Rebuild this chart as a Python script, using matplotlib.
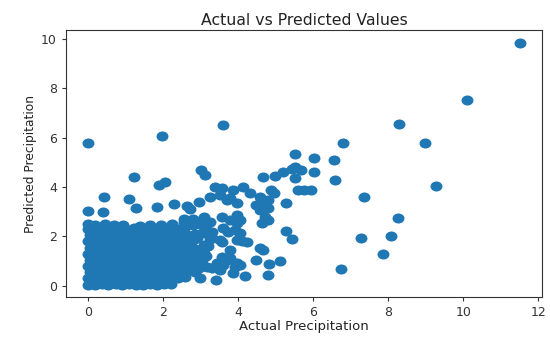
import numpy as np
import matplotlib
matplotlib.use("Agg")
import matplotlib.pyplot as plt
from matplotlib.path import Path
from matplotlib.markers import MarkerStyle
from matplotlib.transforms import Affine2D

# ---- data ----
# dense cluster near the origin (row by row)
blob_actual = [
    0.0, 0.18, 0.37, 0.55, 0.74, 0.92, 1.1, 1.29, 1.47, 1.66, 1.84, 2.03, 2.21,
    0.0, 0.2, 0.4, 0.6, 0.8, 1.0, 1.2, 1.4, 1.6, 1.8, 2.0, 2.2, 2.4, 2.6,
    0.05, 0.25, 0.45, 0.65, 0.85, 1.05, 1.25, 1.45, 1.65, 1.85, 2.05, 2.25, 2.45, 2.65, 2.85,
    0.0, 0.2, 0.4, 0.6, 0.8, 1.0, 1.2, 1.4, 1.6, 1.8, 2.0, 2.2, 2.4, 2.6, 2.8,
    0.05, 0.25, 0.45, 0.65, 0.85, 1.05, 1.25, 1.45, 1.65, 1.85, 2.05, 2.25, 2.45, 2.65, 2.85, 3.05,
    0.0, 0.2, 0.4, 0.6, 0.8, 1.0, 1.2, 1.4, 1.6, 1.8, 2.0, 2.2, 2.4, 2.6, 2.95, 3.1,
    0.05, 0.25, 0.45, 0.65, 0.85, 1.05, 1.25, 1.45, 1.65, 1.85, 2.05, 2.25, 2.45, 2.65, 2.85, 3.2,
    0.0, 0.2, 0.4, 0.6, 0.8, 1.0, 1.2, 1.4, 1.6, 1.8, 2.0, 2.2, 2.4, 2.6, 2.8, 3.25,
    0.05, 0.25, 0.45, 0.65, 0.85, 1.05, 1.25, 1.45, 1.65, 1.85, 2.05, 2.25, 2.45, 2.65, 2.85, 3.05, 3.3,
    0.0, 0.2, 0.42, 0.6, 0.8, 1.0, 1.22, 1.4, 1.6, 1.8, 2.0, 2.2, 2.4, 2.6, 2.8, 3.0, 3.25,
    0.0, 0.2, 0.45, 0.7, 0.95, 1.4, 1.65, 1.95, 2.25, 2.55, 2.8, 3.1,
    2.7, 2.95, 3.15, 2.75, 3.1, 3.3, 2.9, 3.15, 2.55, 2.75, 3.0,
]
blob_predicted = [
    0.05, 0.02, 0.08, 0.04, 0.06, 0.03, 0.07, 0.05, 0.02, 0.08, 0.04, 0.06, 0.09,
    0.31, 0.28, 0.33, 0.27, 0.3, 0.34, 0.29, 0.32, 0.28, 0.3, 0.33, 0.27, 0.31, 0.35,
    0.55, 0.58, 0.52, 0.56, 0.54, 0.59, 0.53, 0.57, 0.55, 0.52, 0.58, 0.54, 0.56, 0.6, 0.57,
    0.8, 0.83, 0.78, 0.82, 0.79, 0.84, 0.8, 0.77, 0.83, 0.81, 0.78, 0.82, 0.8, 0.84, 0.79,
    1.05, 1.07, 1.03, 1.06, 1.04, 1.08, 1.02, 1.05, 1.07, 1.03, 1.06, 1.04, 1.08, 1.05, 1.02, 1.06,
    1.3, 1.32, 1.28, 1.31, 1.33, 1.29, 1.3, 1.27, 1.32, 1.3, 1.28, 1.33, 1.31, 1.29, 1.25, 1.35,
    1.55, 1.57, 1.53, 1.56, 1.54, 1.58, 1.52, 1.55, 1.57, 1.53, 1.56, 1.54, 1.58, 1.55, 1.5, 1.6,
    1.8, 1.82, 1.78, 1.81, 1.83, 1.79, 1.8, 1.77, 1.82, 1.8, 1.78, 1.83, 1.81, 1.79, 1.84, 1.9,
    2.05, 2.07, 2.03, 2.06, 2.04, 2.08, 2.02, 2.05, 2.07, 2.03, 2.06, 2.04, 2.08, 2.05, 2.1, 2.15, 2.2,
    2.3, 2.33, 2.28, 2.32, 2.31, 2.29, 2.33, 2.3, 2.28, 2.32, 2.3, 2.31, 2.29, 2.4, 2.45, 2.5, 2.6,
    2.5, 2.48, 2.52, 2.45, 2.47, 2.44, 2.46, 2.45, 2.5, 2.6, 2.7, 2.8,
    0.95, 0.72, 1.2, 1.45, 1.65, 1.95, 1.95, 2.45, 2.7, 2.62, 2.55,
]

# scattered points of the rising band
band_actual = [
    0.0, 0.4, 0.43, 1.1, 1.23, 1.28, 1.84, 1.9, 2.06, 2.3, 2.65, 2.73, 2.97, 3.02, 3.13,
    3.26, 3.53, 3.4, 3.58, 3.8, 3.72, 3.88, 4.14, 4.33, 4.6, 4.87, 4.95, 4.47, 4.68, 4.79, 5.27,
    4.68, 5.0, 5.19, 5.45, 5.67, 5.53, 5.53, 5.53, 6.02, 6.02, 5.59, 5.75, 5.94,
    4.6, 4.81, 4.73, 4.79, 4.65, 3.58, 3.8, 3.98, 4.06, 3.61, 3.74, 3.93, 3.98, 3.98,
    3.53, 3.58, 3.98, 4.12, 4.25, 4.06, 3.8, 3.58, 3.72, 3.98, 4.06, 3.45, 3.61, 3.93, 3.8,
    4.6, 4.68, 4.49, 4.84, 5.13, 4.79, 4.2, 3.42, 2.99, 3.88, 3.53, 3.32, 3.18, 2.99, 2.81,
    5.27, 5.45,
]
band_predicted = [
    3.02, 2.98, 3.58, 3.5, 4.39, 3.14, 3.18, 4.07, 4.19, 3.3, 3.22, 3.1, 3.38, 4.67, 4.47,
    3.58, 3.66, 4.02, 3.95, 3.54, 3.46, 3.87, 3.99, 3.74, 3.58, 3.87, 3.74, 3.26, 3.34, 3.46, 3.34,
    4.39, 4.43, 4.59, 4.71, 4.68, 4.35, 5.32, 4.8, 5.16, 4.59, 3.87, 3.87, 3.87,
    3.06, 3.14, 2.78, 2.65, 2.53, 2.78, 2.65, 2.53, 2.65, 2.33, 2.17, 2.25, 2.85, 3.34,
    1.85, 1.77, 1.85, 1.81, 1.77, 2.13, 1.44, 1.16, 1.04, 0.92, 0.84, 0.92, 0.83, 0.75, 1.11,
    1.52, 1.44, 1.04, 0.88, 1.0, 0.43, 0.39, 0.23, 0.31, 0.51, 0.63, 0.71, 0.75, 0.96, 1.16,
    2.21, 1.89,
]

# isolated points
outlier_actual = [11.52, 10.1, 8.29, 8.98, 9.28, 6.79, 6.55, 6.58, 7.35, 8.26, 8.07,
                  7.27, 7.86, 6.74, 3.61, 1.98, 0.0]
outlier_predicted = [9.84, 7.54, 6.53, 5.80, 4.03, 5.80, 5.11, 4.27, 3.58, 2.73, 2.01,
                     1.93, 1.28, 0.68, 6.49, 6.05, 5.77]

title = "Actual vs Predicted Values"
x_label = "Actual Precipitation"
y_label = "Predicted Precipitation"

actual = np.concatenate([blob_actual, band_actual, outlier_actual])
predicted = np.concatenate([blob_predicted, band_predicted, outlier_predicted])

# slightly wide elliptical dot (reference is stretched horizontally)
ell = Path.unit_circle().transformed(Affine2D().scale(1.0, 0.84))
marker = MarkerStyle(ell)

fig = plt.figure(figsize=(5.5, 3.38), dpi=100)
ax = fig.add_axes([0.12, 0.1213, 0.8655, 0.7897])
ax.scatter(actual, predicted, s=74, marker=marker, color="#1f77b4", linewidths=0)

ax.set_xlim(-0.58, 12.1)
ax.set_ylim(-0.45, 10.35)
ax.set_xticks([0, 2, 4, 6, 8, 10, 12])
ax.set_yticks([0, 2, 4, 6, 8, 10])
ax.tick_params(labelsize=9, length=3, colors="#333333")
for sp in ax.spines.values():
    sp.set_color("#333333")
ax.set_title(title, fontsize=11.3, color="#222222", pad=4)
ax.set_xlabel(x_label, fontsize=9.5, color="#222222", labelpad=1)
ax.set_ylabel(y_label, fontsize=8.8, color="#222222", labelpad=3)

fig.savefig("out.png", dpi=100)
